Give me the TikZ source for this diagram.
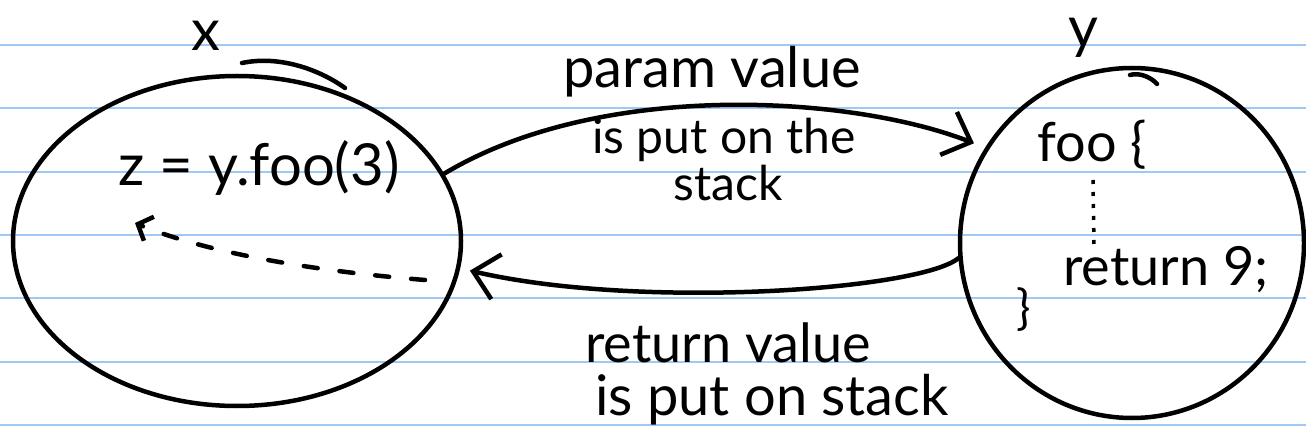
\documentclass[tikz,border=0pt]{standalone}
\usepackage{fontspec}
\setmainfont{Lato}
\usetikzlibrary{arrows.meta,shapes.geometric}
\definecolor{rulecol}{RGB}{160,200,245}

\tikzset{
  rule/.style={draw=rulecol,line width=2pt},
  pen/.style={line width=4.5pt,line cap=round},
  obj/.style={pen,draw,ellipse,inner sep=0pt},
  hand/.style={font=\fontsize{48}{48}\selectfont,inner sep=0pt},
  flow/.style={pen,-{Straight Barb[length=24pt,width=46pt]}},
}

\begin{document}
\begin{tikzpicture}[x=1pt,y=-1pt]
   \useasboundingbox (0,0) rectangle (1306,438);
   \foreach \k in {0,...,6}
       \draw[rule] (0,{45+63.3*\k}) -- (1306,{45+63.3*\k});

   % the two objects
   \node[obj,minimum width=448pt,minimum height=330pt] (X) at (237,241) {};
   \node[obj,minimum width=344pt,minimum height=350pt] (Y) at (1132,243) {};
   \draw[pen] (242,63) .. controls (280,55) and (320,70) .. (345,88);
   \draw[pen] (1130,75) .. controls (1140,72) and (1152,78) .. (1157,84);
   \node[hand,font=\fontsize{58}{58}\selectfont] (xl) at (206,36) {x};
   \node[hand,font=\fontsize{58}{58}\selectfont] (yl) at (1083,38) {y};

   % inside x
   \node[hand,font=\fontsize{58}{58}\selectfont] (call) at (259,168) {z = y.foo(3)};
   \coordinate (back) at (425,280);
   \draw[pen,dash pattern=on 14pt off 22pt,-{Straight Barb[length=12pt,width=26pt]}]
       (back) .. controls (300,270) and (200,250) .. (135,223);

   % inside y
   \node[hand,font=\fontsize{54}{54}\selectfont] (foo) at (1092,145) {foo \{};
   \node[hand,font=\fontsize{54}{54}\selectfont] (ret) at (1166,270) {return 9;};
   \node[hand] (close) at (1024,310) {\}};
   \draw[line width=3.5pt,dash pattern=on 4pt off 8pt] (1093,180) -- ([xshift=-72pt]ret.north);

   % messages
   \draw[flow,shorten >=12pt] (X.18) .. controls (600,80) and (850,95) .. (Y.147);
   \draw[flow,shorten >=10pt] (Y.185) .. controls (920,290) and (640,310) .. (X.-7);

   \node[hand,font=\fontsize{56}{56}\selectfont] (pv) at (712,72) {param value};
   \node[hand] (pv2) at (724,140) {is put on the};
   \node[hand] (pv3) at (728,183) {stack};
   \node[hand,font=\fontsize{54}{54}\selectfont] (rv) at (728,343) {return value};
   \node[hand,font=\fontsize{56}{56}\selectfont] (rv2) at (772,400) {is put on stack};
\end{tikzpicture}
\end{document}
